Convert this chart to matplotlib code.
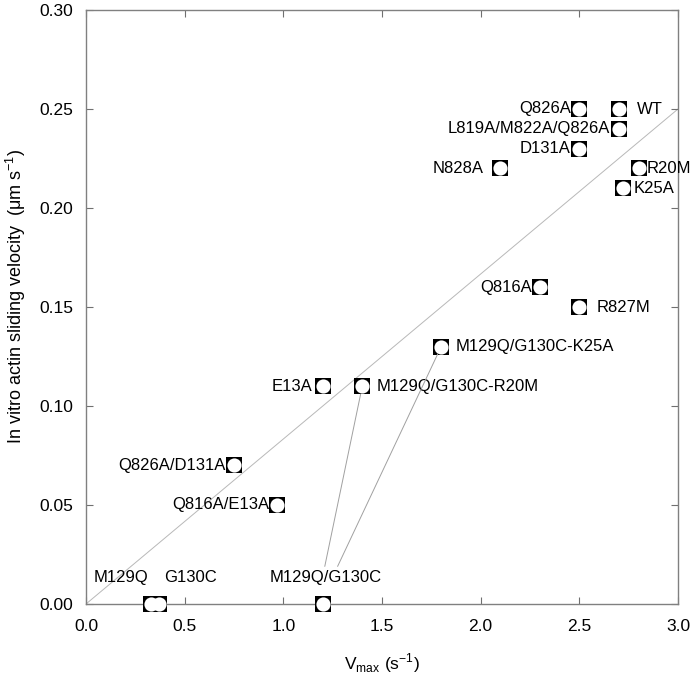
import matplotlib.pyplot as plt

plt.rcParams['font.family'] = ['Liberation Sans', 'DejaVu Sans']

# Mutant labels, Vmax (s-1) and in vitro sliding velocity (um s-1)
names = ['WT', 'Q826A', 'L819A/M822A/Q826A', 'D131A', 'N828A', 'R20M', 'K25A',
         'Q816A', 'R827M', 'M129Q/G130C-K25A', 'E13A', 'M129Q/G130C-R20M',
         'Q826A/D131A', 'Q816A/E13A', 'M129Q', 'G130C', 'M129Q/G130C']
vmax = [2.70, 2.50, 2.70, 2.50, 2.10, 2.80, 2.72,
        2.30, 2.50, 1.80, 1.20, 1.40,
        0.75, 0.97, 0.33, 0.37, 1.20]
velocity = [0.25, 0.25, 0.24, 0.23, 0.22, 0.22, 0.21,
            0.16, 0.15, 0.13, 0.11, 0.11,
            0.07, 0.05, 0.0, 0.0, 0.0]

# reference line
line_x = [0.0, 3.0]
line_y = [0.0, 0.25]

# label placement (offset in points from the marker, horizontal alignment)
label_pos = {
    'WT': (13, 0, 'left'), 'Q826A': (-6, 0, 'right'),
    'L819A/M822A/Q826A': (-6, 0, 'right'), 'D131A': (-6, 0, 'right'),
    'N828A': (-12, 0, 'right'), 'R20M': (6, 0, 'left'), 'K25A': (8, 0, 'left'),
    'Q816A': (-6, 0, 'right'), 'R827M': (12.5, 0, 'left'),
    'M129Q/G130C-K25A': (10.5, 0, 'left'), 'E13A': (-7.5, 0, 'right'),
    'M129Q/G130C-R20M': (10.5, 0, 'left'), 'Q826A/D131A': (-6, 0, 'right'),
    'Q816A/E13A': (-6, 0, 'right'), 'M129Q': (-22, 19, 'center'),
    'G130C': (23, 19, 'center'), 'M129Q/G130C': (2, 19, 'center'),
}

fig = plt.figure(figsize=(6.93, 6.76), dpi=100)
ax = fig.add_axes([86 / 693, 72 / 676, 592 / 693, 594 / 676])

ax.plot(line_x, line_y, color='#b8b8b8', lw=0.7, zorder=1)

ax.plot(vmax, velocity, 's', ms=11, mfc='black', mew=0, ls='none', zorder=3, clip_on=False)
ax.plot(vmax, velocity, 'o', ms=10.2, mfc='white', mew=0, ls='none', zorder=4, clip_on=False)

for n, x, y in zip(names, vmax, velocity):
    dx, dy, ha = label_pos[n]
    ax.annotate(n, (x, y), xytext=(dx, dy), textcoords='offset points',
                ha=ha, va='center', fontsize=12)

# connectors from the double mutant label to its derived mutants
ax.annotate('', (1.40, 0.11), xytext=(1.21, 0.019),
            arrowprops=dict(arrowstyle='-', color='#a0a0a0', lw=0.7, shrinkA=0, shrinkB=6))
ax.annotate('', (1.80, 0.13), xytext=(1.275, 0.019),
            arrowprops=dict(arrowstyle='-', color='#a0a0a0', lw=0.7, shrinkA=0, shrinkB=6))

ax.set_xlim(0, 3.0)
ax.set_ylim(0, 0.30)
ax.set_xticks([0, 0.5, 1.0, 1.5, 2.0, 2.5, 3.0])
ax.set_yticks([0, 0.05, 0.10, 0.15, 0.20, 0.25, 0.30])
ax.xaxis.set_major_formatter(plt.FormatStrFormatter('%.1f'))
ax.yaxis.set_major_formatter(plt.FormatStrFormatter('%.2f'))
ax.tick_params(direction='in', top=True, right=True, length=5, width=0.8,
               color='#707070', labelsize=12.5)
ax.tick_params(axis='x', pad=11)
ax.tick_params(axis='y', pad=9)
for sp in ax.spines.values():
    sp.set_color('#808080')
    sp.set_linewidth(1.0)

ax.set_xlabel(r'V$_{\mathregular{max}}$ (s$^{\mathregular{-1}}$)', fontsize=12.5, labelpad=12)
ax.set_ylabel(r'In vitro actin sliding velocity  ($\mathregular{\mu}$m s$^{\mathregular{-1}}$)',
              fontsize=13)
ax.yaxis.set_label_coords(-0.098, 0.518)

fig.savefig('out.png', dpi=100)
